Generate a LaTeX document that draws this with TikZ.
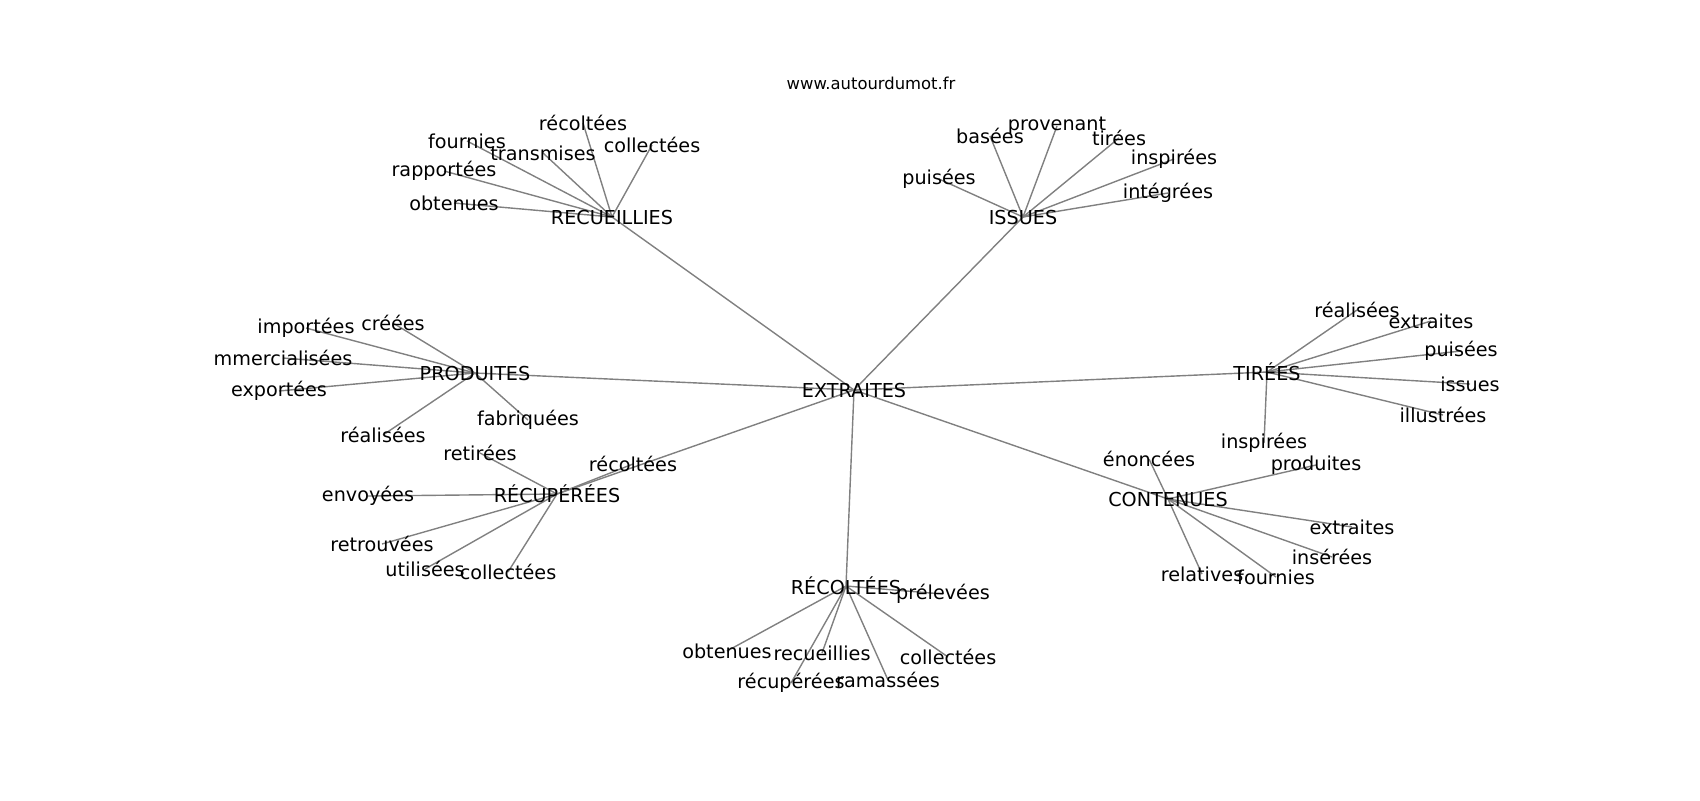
\documentclass[tikz,border=0pt]{standalone}
\usepackage{fontspec}
\setmainfont{DejaVu Sans}
\pgfdeclarelayer{background}
\pgfsetlayers{background,main}
\tikzset{
  lbl/.style={inner sep=0pt, outer sep=0pt, anchor=center, font=\fontsize{9.6pt}{11pt}\selectfont, text=black},
  ttl/.style={inner sep=0pt, anchor=center, font=\fontsize{8.2pt}{10pt}\selectfont, text=black},
  edge/.style={draw=black!50, line width=0.7pt}
}
\begin{document}
\begin{tikzpicture}[x=0.5pt, y=-0.5pt]
\useasboundingbox (0,0) rectangle (1700,800);
\node[ttl] (title) at (871,83) {www.autourdumot.fr};
% hubs
\node[lbl] (ext) at (854,390) {EXTRAITES};
\node[lbl] (rec) at (612,217) {RECUEILLIES};
\node[lbl] (iss) at (1023,217) {ISSUES};
\node[lbl] (pro) at (475,373) {PRODUITES};
\node[lbl] (rcp) at (557,494) {RÉCUPÉRÉES};
\node[lbl] (tir) at (1267,372) {TIRÉES};
\node[lbl] (con) at (1168,499) {CONTENUES};
\node[lbl] (rco) at (846,586) {RÉCOLTÉES};
% RECUEILLIES leaves
\node[lbl] (r1) at (583,123) {récoltées};
\node[lbl] (r2) at (652,145) {collectées};
\node[lbl] (r3) at (467,141) {fournies};
\node[lbl] (r4) at (543,153) {transmises};
\node[lbl] (r5) at (444,171) {rapportées};
\node[lbl] (r6) at (454,203) {obtenues};
% ISSUES leaves
\node[lbl] (i1) at (990,136) {basées};
\node[lbl] (i2) at (1057,126) {provenant};
\node[lbl] (i3) at (1119,138) {tirées};
\node[lbl] (i4) at (1174,159) {inspirées};
\node[lbl] (i5) at (939,179) {puisées};
\node[lbl] (i6) at (1168,193) {intégrées};
% PRODUITES leaves
\node[lbl] (p1) at (393,323) {créées};
\node[lbl] (p2) at (306,328) {importées};
\node[lbl] (p3) at (283,358) {mmercialisées};
\node[lbl] (p4) at (279,391) {exportées};
\node[lbl] (p5) at (528,420) {fabriquées};
\node[lbl] (p6) at (383,435) {réalisées};
% RECUPEREES leaves
\node[lbl] (c1) at (480,453) {retirées};
\node[lbl] (c2) at (633,464) {récoltées};
\node[lbl] (c3) at (368,496) {envoyées};
\node[lbl] (c4) at (382,544) {retrouvées};
\node[lbl] (c5) at (425,569) {utilisées};
\node[lbl] (c6) at (508,572) {collectées};
% TIREES leaves
\node[lbl] (t1) at (1357,310) {réalisées};
\node[lbl] (t2) at (1431,321) {extraites};
\node[lbl] (t3) at (1461,351) {puisées};
\node[lbl] (t4) at (1470,384) {issues};
\node[lbl] (t5) at (1443,415) {illustrées};
\node[lbl] (t6) at (1264,443) {inspirées};
% CONTENUES leaves
\node[lbl] (n1) at (1149,459) {énoncées};
\node[lbl] (n2) at (1316,465) {produites};
\node[lbl] (n3) at (1352,527) {extraites};
\node[lbl] (n4) at (1332,557) {insérées};
\node[lbl] (n5) at (1276,577) {fournies};
\node[lbl] (n6) at (1202,574) {relatives};
% RECOLTEES leaves
\node[lbl] (o1) at (943,594) {prélevées};
\node[lbl] (o2) at (727,651) {obtenues};
\node[lbl] (o3) at (822,653) {recueillies};
\node[lbl] (o4) at (791,683) {récupérées};
\node[lbl] (o5) at (888,680) {ramassées};
\node[lbl] (o6) at (948,657) {collectées};
\begin{pgfonlayer}{background}
\foreach \h in {rec,iss,pro,rcp,tir,con,rco}
  \draw[edge] (ext.center) -- (\h.center);
\foreach \l in {r1,r2,r3,r4,r5,r6}
  \draw[edge] (rec.center) -- (\l.center);
\foreach \l in {i1,i2,i3,i4,i5,i6}
  \draw[edge] (iss.center) -- (\l.center);
\foreach \l in {p1,p2,p3,p4,p5,p6}
  \draw[edge] (pro.center) -- (\l.center);
\foreach \l in {c1,c2,c3,c4,c5,c6}
  \draw[edge] (rcp.center) -- (\l.center);
\foreach \l in {t1,t2,t3,t4,t5,t6}
  \draw[edge] (tir.center) -- (\l.center);
\foreach \l in {n1,n2,n3,n4,n5,n6}
  \draw[edge] (con.center) -- (\l.center);
\foreach \l in {o1,o2,o3,o4,o5,o6}
  \draw[edge] (rco.center) -- (\l.center);
\end{pgfonlayer}
\end{tikzpicture}
\end{document}
